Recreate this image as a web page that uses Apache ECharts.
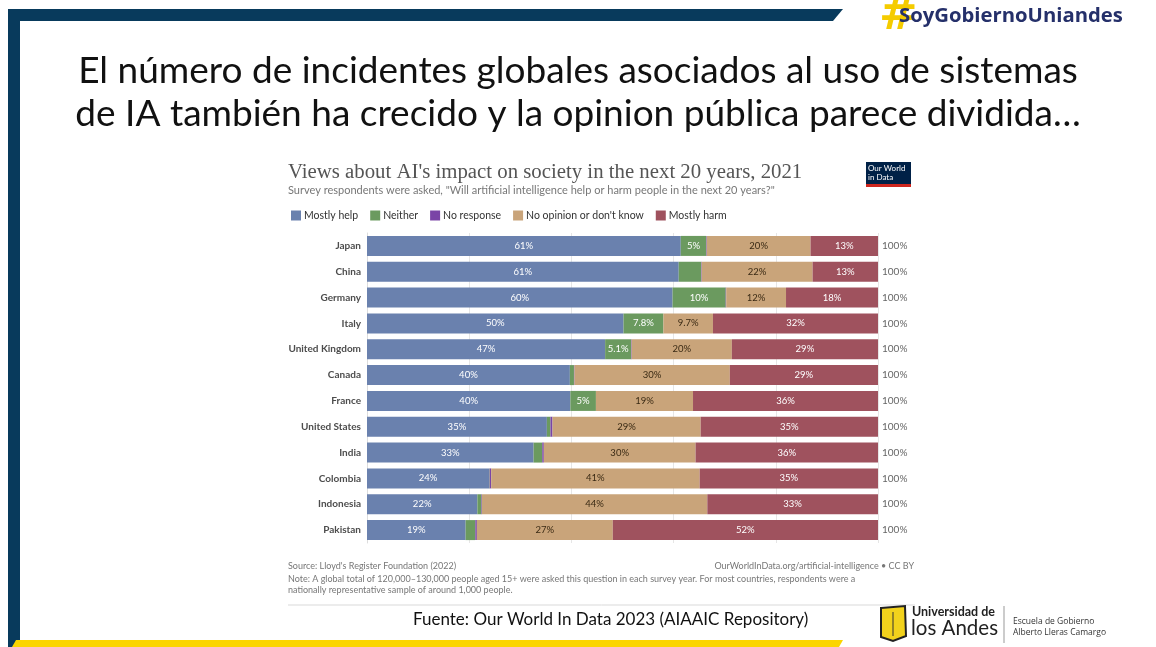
<!DOCTYPE html>
<html>
<head>
<meta charset="utf-8">
<script src="https://cdn.jsdelivr.net/npm/echarts@6/dist/echarts.min.js"></script>
<style>
html,body{margin:0;padding:0;background:#fff;}
#chart{width:1156px;height:647px;}
</style>
</head>
<body>
<div id="chart"></div>
<script>
// ---- Data ----
const countries = ['Japan','China','Germany','Italy','United Kingdom','Canada','France','United States','India','Colombia','Indonesia','Pakistan'];
const seriesNames = ['Mostly help','Neither','No response',"No opinion or don't know",'Mostly harm'];
const mostlyHelp = [61.4, 61.0, 59.8, 50.2, 46.6, 39.7, 39.8, 35.2, 32.6, 23.9, 21.6, 19.3];
const neither    = [5.0, 4.4, 10.4, 7.8, 5.1, 0.8, 5.0, 0.7, 1.7, 0.1, 0.8, 1.9];
const noResponse = [0.1, 0.1, 0.1, 0.0, 0.1, 0.1, 0.0, 0.4, 0.3, 0.3, 0.1, 0.3];
const noOpinion  = [20.3, 21.7, 11.7, 9.7, 19.6, 30.4, 19.0, 29.0, 29.7, 40.8, 44.1, 26.6];
const mostlyHarm = [13.2, 12.8, 18.0, 32.3, 28.6, 29.0, 36.2, 34.7, 35.7, 34.9, 33.4, 51.9];
const totalLabels = ['100%','100%','100%','100%','100%','100%','100%','100%','100%','100%','100%','100%'];
const xTicks = [0, 20, 40, 60, 80, 100];

const colors = ['#6a81ae','#6b9a5f','#7a44a6','#c9a47a','#9f525e'];
const labelColors = ['#ffffff','#ffffff','#ffffff','#3a2a14','#ffffff'];
const allValues = [mostlyHelp, neither, noResponse, noOpinion, mostlyHarm];

function fmt(v){
  if (v < 4.8) return '';
  if (v >= 10) return Math.round(v) + '%';
  return parseFloat(v.toPrecision(2)) + '%';
}

const chart = echarts.init(document.getElementById('chart'), null, {renderer:'canvas'});

const series = seriesNames.map((name, i) => ({
  name: name,
  type: 'bar',
  stack: 'total',
  barWidth: 20,
  itemStyle: { color: colors[i] },
  label: {
    show: true,
    position: 'inside',
    color: labelColors[i],
    fontFamily: 'Lato',
    fontSize: 9.5,
    formatter: p => fmt(p.value)
  },
  emphasis: { disabled: true },
  data: allValues[i]
}));

const navy = '#083a5c';
const yellow = '#fbd500';

const option = {
  animation: false,
  backgroundColor: '#ffffff',
  color: colors,
  grid: { left: 367, right: 278, top: 233, bottom: 104, containLabel: false },
  legend: {
    left: 286, top: 205,
    icon: 'rect', itemWidth: 10, itemHeight: 10, itemGap: 12,
    textStyle: { fontFamily: 'Lato', fontSize: 10.5, color: '#333', padding: [0,0,0,-2] },
    data: seriesNames
  },
  xAxis: {
    type: 'value', min: xTicks[0], max: xTicks[xTicks.length-1], interval: 20,
    axisLabel: { show: false }, axisTick: { show: false }, axisLine: { show: false },
    splitLine: { show: true, lineStyle: { color: '#e6e6e6', width: 1 } }
  },
  yAxis: [
    {
      type: 'category', inverse: true, data: countries,
      axisTick: { show: false },
      axisLine: { show: true, lineStyle: { color: '#dddddd' } },
      axisLabel: { fontFamily: 'Lato', fontSize: 10, fontWeight: 'bold', color: '#4d4d4d', margin: 6 }
    },
    {
      type: 'category', inverse: true, position: 'right', data: countries,
      axisTick: { show: false }, axisLine: { show: false },
      axisLabel: { fontFamily: 'Lato', fontSize: 10, color: '#666', margin: 4, formatter: (v, i) => totalLabels[i] }
    }
  ],
  series: series,
  graphic: [
    // frame
    { type: 'rect', shape: { x: 8, y: 9, width: 12, height: 638 }, style: { fill: navy } },
    { type: 'polygon', shape: { points: [[8,9],[843,9],[833,21],[8,21]] }, style: { fill: navy } },
    { type: 'polygon', shape: { points: [[16,640],[843,640],[839,647],[12,647]] }, style: { fill: yellow } },
    // main title
    { type: 'text', left: 'center', top: 53, style: { text: 'El número de incidentes globales asociados al uso de sistemas', font: '37px Lato', fill: '#111' } },
    { type: 'text', left: 'center', top: 96, style: { text: 'de IA también ha crecido y la opinion pública parece dividida…', font: '37px Lato', fill: '#111' } },
    // chart title
    { type: 'text', left: 288, top: 162, style: { text: "Views about AI's impact on society in the next 20 years, 2021", font: '20.8px "Liberation Serif"', fill: '#555' } },
    { type: 'text', left: 288, top: 185, style: { text: 'Survey respondents were asked, "Will artificial intelligence help or harm people in the next 20 years?"', font: '11px Lato', fill: '#777' } },
    // OWID logo
    { type: 'rect', shape: { x: 866, y: 162, width: 45, height: 22 }, style: { fill: '#002147' } },
    { type: 'rect', shape: { x: 866, y: 184, width: 45, height: 3 }, style: { fill: '#ce261e' } },
    { type: 'text', left: 868, top: 164, style: { text: 'Our World\nin Data', font: '8px Lato', fill: '#fff', lineHeight: 9 } },
    // footer
    { type: 'text', left: 288, top: 562, style: { text: "Source: Lloyd's Register Foundation (2022)", font: '9px Lato', fill: '#777' } },
    { type: 'text', right: 242, top: 562, style: { text: 'OurWorldInData.org/artificial-intelligence • CC BY', font: '9px Lato', fill: '#777', align: 'right' } },
    { type: 'text', left: 288, top: 574, style: { text: 'Note: A global total of 120,000–130,000 people aged 15+ were asked this question in each survey year. For most countries, respondents were a\nnationally representative sample of around 1,000 people.', font: '9px Lato', fill: '#777', lineHeight: 11 } },
    { type: 'line', shape: { x1: 288, y1: 605, x2: 915, y2: 605 }, style: { stroke: '#d9d9d9', lineWidth: 1 } },
    { type: 'text', left: 413, top: 611, style: { text: 'Fuente: Our World In Data 2023 (AIAAIC Repository)', font: '17px Lato', fill: '#111' } },
    // top right logo
    { type: 'text', left: 879, top: -6, style: { text: '#', font: 'bold 46px "DejaVu Sans"', fill: '#f5cc00' } },
    { type: 'text', left: 899, top: 6, style: { text: 'SoyGobiernoUniandes', font: 'bold 20.3px "Open Sans"', fill: '#25306a' } },
    // bottom right logo
    { type: 'polygon', shape: { points: [[881,608],[905,606],[906,636],[893,641],[881,637]] }, style: { fill: '#f2d21c', stroke: '#222', lineWidth: 2 } },
    { type: 'line', shape: { x1: 893, y1: 612, x2: 893, y2: 636 }, style: { stroke: '#333', lineWidth: 1 } },
    { type: 'text', left: 912, top: 605, style: { text: 'Universidad de', font: 'bold 12.5px Lato', fill: '#222' } },
    { type: 'text', left: 911, top: 618, style: { text: 'los Andes', font: '20.5px Lato', fill: '#222' } },
    { type: 'line', shape: { x1: 1004, y1: 606, x2: 1004, y2: 643 }, style: { stroke: '#999', lineWidth: 1 } },
    { type: 'text', left: 1013, top: 616, style: { text: 'Escuela de Gobierno\nAlberto Lleras Camargo', font: '8.5px "Open Sans"', fill: '#333', lineHeight: 11 } }
  ]
};
chart.setOption(option);
</script>
</body>
</html>
